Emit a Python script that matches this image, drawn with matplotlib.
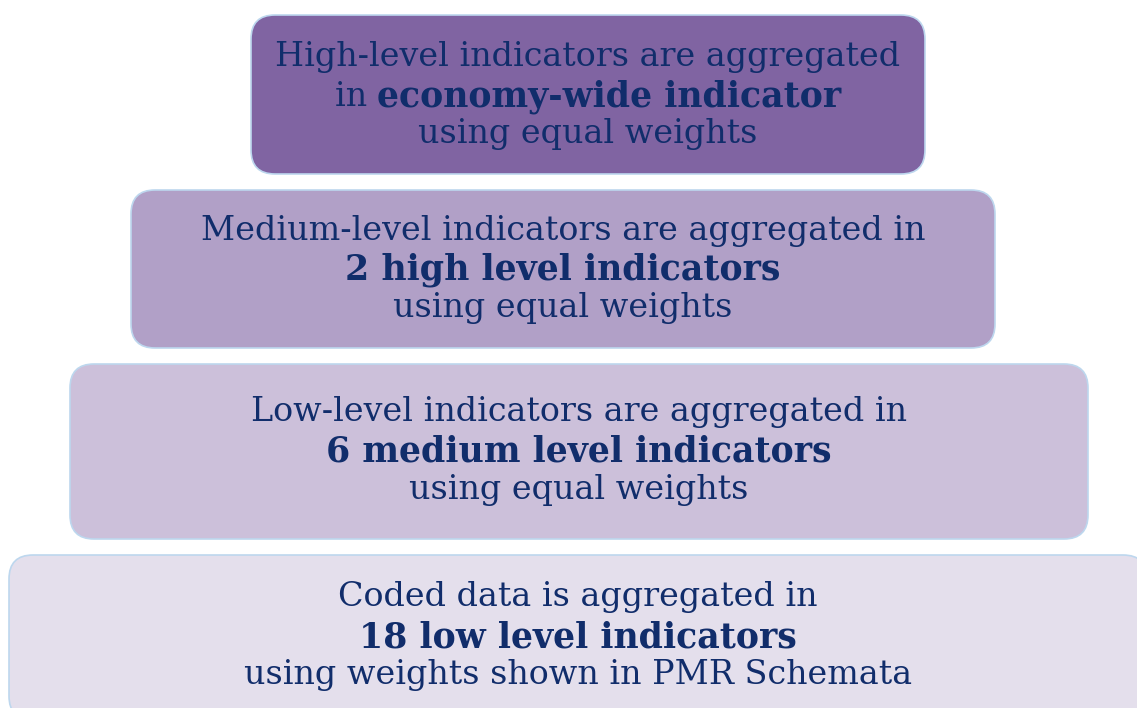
"""Stacked aggregation pyramid for PMR indicators."""

import matplotlib
matplotlib.use("Agg")
import matplotlib.pyplot as plt
from matplotlib.patches import FancyBboxPatch

# one entry per level, top to bottom
LEAD_LINES = [
    "High-level indicators are aggregated",
    "Medium-level indicators are aggregated in",
    "Low-level indicators are aggregated in",
    "Coded data is aggregated in",
]
MID_PREFIX = ["in ", "", "", ""]
MID_BOLD = [
    "economy-wide indicator",
    "2 high level indicators",
    "6 medium level indicators",
    "18 low level indicators",
]
TAIL_LINES = [
    "using equal weights",
    "using equal weights",
    "using equal weights",
    "using weights shown in PMR Schemata",
]
FILL_COLORS = ["#8064A2", "#B1A0C7", "#CCC0DA", "#E4DFEC"]

# box extents in pixels (left, top, right, bottom)
BOXES = [
    (251, 15, 925, 174),
    (131, 190, 995, 348),
    (70, 364, 1088, 539),
    (9, 555, 1147, 720),
]
LINE_CENTERS = [
    (57, 97, 134),
    (231, 270, 308),
    (412, 452, 490),
    (597, 637, 675),
]
TEXT_COLOR = "#112D6B"
FONT = "DejaVu Serif"
SIZE = 24.0
BOLD_SIZE = 25.0

fig = plt.figure(figsize=(11.37, 7.08), dpi=100)
ax = fig.add_axes([0, 0, 1, 1])
ax.set_xlim(0, 1137)
ax.set_ylim(708, 0)
ax.axis("off")

for i, (x0, y0, x1, y1) in enumerate(BOXES):
    ax.add_patch(FancyBboxPatch(
        (x0, y0), x1 - x0, y1 - y0,
        boxstyle="round,pad=0,rounding_size=24",
        facecolor=FILL_COLORS[i], edgecolor="#BDD7EE", linewidth=1.2,
    ))

fig.canvas.draw()
renderer = fig.canvas.get_renderer()
inv = ax.transData.inverted()


def data_width(text):
    bb = text.get_window_extent(renderer)
    return inv.transform((bb.x1, 0))[0] - inv.transform((bb.x0, 0))[0]


for i, (x0, y0, x1, y1) in enumerate(BOXES):
    cx = (x0 + x1) / 2
    top, mid, low = LINE_CENTERS[i]
    ax.text(cx, top, LEAD_LINES[i], ha="center", va="center",
            fontsize=SIZE, family=FONT, color=TEXT_COLOR)
    ax.text(cx, low, TAIL_LINES[i], ha="center", va="center",
            fontsize=SIZE, family=FONT, color=TEXT_COLOR)

    # middle line mixes a plain prefix with a bold phrase
    prefix = ax.text(0, mid, MID_PREFIX[i], ha="left", va="center",
                     fontsize=SIZE, family=FONT, color=TEXT_COLOR)
    bold = ax.text(0, mid, MID_BOLD[i], ha="left", va="center",
                   fontsize=BOLD_SIZE, family=FONT, color=TEXT_COLOR,
                   weight="bold")
    w_prefix = data_width(prefix) if MID_PREFIX[i] else 0.0
    w_bold = data_width(bold)
    start = cx - (w_prefix + w_bold) / 2
    prefix.set_x(start)
    bold.set_x(start + w_prefix)

fig.savefig("out.png", dpi=100)
